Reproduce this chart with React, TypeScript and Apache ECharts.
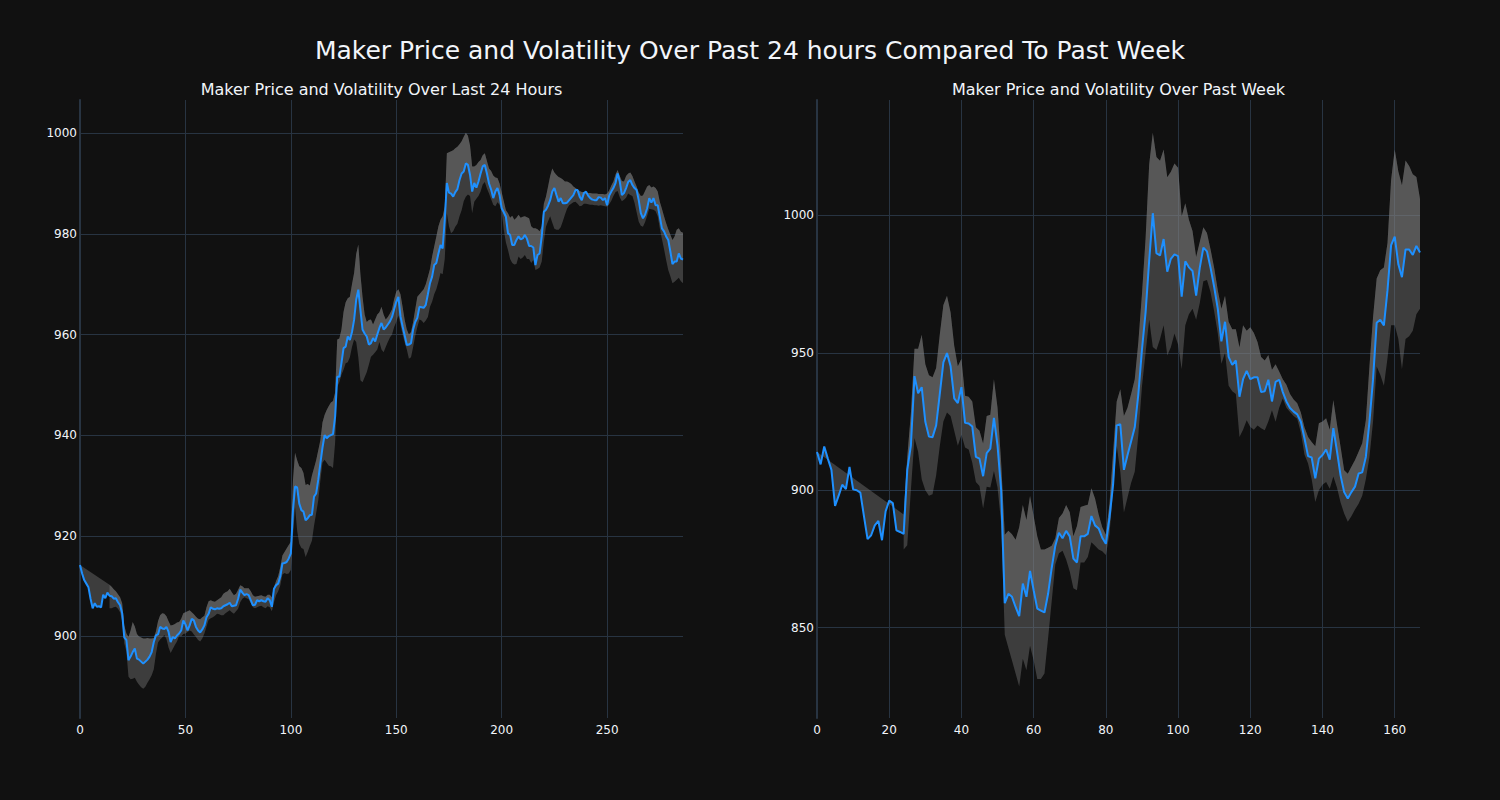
import React, { useEffect, useRef } from "react";
import * as echarts from "echarts";

// ---------- Left panel: last 24 hours (5-minute steps) ----------
const priceL = [
  914.2, 912.5, 911.2, 910.5, 909.8, 907.5, 905.6, 906.6, 905.9, 906.0,
  905.8, 908.3, 907.6, 908.7, 908.1, 908.0, 907.5, 907.6, 906.8, 906.2,
  904.6, 899.8, 899.3, 895.3, 896.0, 896.9, 897.6, 895.6, 895.4, 895.0,
  894.6, 895.0, 895.4, 896.0, 896.9, 898.9, 900.2, 900.4, 901.9, 901.6,
  901.5, 901.9, 900.9, 898.9, 899.9, 899.6, 900.2, 900.6, 901.2, 903.2,
  902.4, 901.2, 902.2, 903.5, 903.2, 901.9, 901.2, 900.8, 901.4, 902.2,
  903.8, 904.5, 905.8, 905.5, 905.4, 905.6, 905.5, 905.6, 906.0, 906.2,
  906.4, 906.7, 906.0, 906.1, 906.2, 907.5, 909.3, 908.7, 908.2, 908.4,
  908.2, 907.2, 906.2, 906.3, 907.2, 907.0, 907.2, 907.0, 906.9, 907.6,
  907.2, 905.9, 909.5, 910.2, 910.5, 911.9, 914.5, 914.6, 914.8, 915.5,
  916.5, 925.0, 929.8, 929.6, 926.4, 925.1, 924.8, 923.1, 923.5, 924.1,
  924.2, 927.8, 928.4, 931.1, 934.4, 937.5, 940.0, 939.4, 939.8, 940.0,
  940.2, 943.7, 951.6, 951.6, 954.3, 957.3, 957.6, 959.6, 958.9, 960.5,
  962.9, 966.9, 968.9, 964.9, 961.0, 960.2, 959.6, 958.0, 958.3, 959.3,
  958.6, 960.0, 961.3, 962.3, 961.0, 961.4, 962.0, 962.6, 963.5, 965.0,
  966.5, 967.5, 963.6, 961.6, 959.8, 957.9, 958.0, 958.3, 961.0, 962.5,
  963.3, 965.5, 965.4, 965.3, 965.9, 968.0, 970.2, 971.5, 973.8, 974.2,
  976.1, 977.8, 977.1, 982.8, 990.1, 988.2, 988.0, 987.4, 988.3, 988.9,
  990.7, 992.0, 992.4, 994.0, 993.7, 991.7, 988.4, 990.1, 989.2, 990.4,
  992.0, 993.4, 993.7, 992.0, 990.0, 988.8, 987.1, 988.4, 989.1, 987.7,
  985.1, 984.3, 983.4, 980.1, 979.8, 977.8, 977.8, 978.8, 979.5, 978.9,
  979.1, 979.8, 979.0, 977.6, 977.6, 977.3, 973.8, 975.8, 976.1, 979.5,
  984.4, 984.8, 985.6, 986.7, 988.4, 989.1, 987.7, 986.4, 987.1, 986.1,
  986.1, 986.2, 986.7, 987.2, 987.7, 988.7, 988.7, 987.4, 986.7, 988.1,
  988.4, 987.6, 987.1, 986.8, 986.7, 986.7, 987.3, 987.2, 986.7, 987.1,
  985.7, 987.6, 988.4, 989.1, 990.1, 992.0, 990.4, 987.7, 988.1, 989.1,
  990.3, 990.7, 989.7, 989.1, 988.7, 986.7, 984.1, 983.1, 983.8, 985.1,
  987.1, 986.2, 987.1, 985.7, 985.7, 983.4, 981.1, 980.5, 979.5, 978.8,
  976.5, 974.0, 974.5, 974.5, 976.1, 975.1, 974.9,
];
const bandStartL = 14;
const upperL = [
  910.3, 909.9, 909.4, 909.0, 908.4, 907.8,
  906.6, 902.2, 900.6, 899.9, 901.2, 902.9, 902.0, 900.5, 900.0, 899.8,
  899.6, 899.6, 899.7, 899.6, 899.6, 899.7, 901.0, 903.0, 904.2, 904.6,
  904.5, 904.0, 903.0, 902.2, 902.3, 902.5, 902.8, 902.9, 903.5, 904.6,
  904.8, 905.0, 905.2, 904.8, 904.4, 903.9, 903.5, 903.4, 903.8, 904.1,
  905.8, 907.0, 907.2, 907.0, 906.9, 907.2, 907.5, 907.8, 908.5, 908.8,
  909.0, 909.5, 908.8, 908.2, 908.5, 909.3, 910.2, 910.0, 909.6, 909.6,
  909.6, 909.0, 908.2, 907.9, 908.0, 908.1, 908.2, 908.0, 907.9, 908.3,
  908.3, 907.8, 909.8, 911.0, 912.0, 913.8, 916.1, 916.8, 917.5, 918.2,
  918.8, 931.0, 936.5, 935.0, 933.8, 933.5, 932.5, 930.1, 930.3, 930.0,
  932.0, 933.5, 935.0, 937.0, 939.0, 942.5, 944.0, 945.0, 945.8, 946.5,
  946.8, 948.5, 959.0, 959.2, 961.0, 964.5, 966.4, 967.2, 967.5, 970.0,
  972.2, 976.0, 977.9, 972.0, 967.5, 964.0, 962.5, 962.9, 963.0, 962.0,
  963.0, 964.0, 964.4, 965.5, 964.0, 963.0, 963.5, 964.2, 965.0, 967.0,
  968.5, 969.0, 968.0, 965.5, 962.9, 961.0, 960.0, 960.5, 962.5, 965.0,
  967.5, 968.0, 968.5, 969.0, 970.0, 971.5, 973.0, 975.5, 977.5, 979.5,
  981.5, 982.8, 983.5, 985.4, 996.0, 996.2, 996.4, 996.6, 997.0, 997.3,
  997.8, 998.4, 999.3, 1000.1, 999.5, 997.5, 993.4, 993.4, 993.7, 994.3,
  994.7, 995.6, 996.0, 994.5, 993.0, 992.5, 991.6, 991.2, 991.1, 990.0,
  988.2, 986.5, 984.7, 984.1, 983.2, 983.6, 982.8, 983.2, 983.8, 983.2,
  983.4, 983.5, 983.3, 983.1, 981.5, 981.1, 981.1, 980.9, 980.5, 981.5,
  986.0, 987.4, 989.4, 991.5, 993.0, 992.2, 991.7, 991.3, 991.1, 990.8,
  990.4, 990.4, 990.2, 989.9, 989.4, 989.1, 988.8, 988.5, 988.3, 988.3,
  988.2, 988.1, 988.1, 988.0, 988.0, 988.0, 987.9, 987.9, 987.9, 987.8,
  988.0, 988.6, 989.6, 990.4, 991.8, 992.7, 991.5, 990.5, 990.4, 991.5,
  992.0, 992.2, 991.5, 990.4, 989.4, 988.2, 987.5, 987.6, 988.5, 989.4,
  989.7, 989.2, 989.4, 989.1, 988.4, 986.4, 985.0, 983.5, 982.1, 980.9,
  979.8, 978.8, 979.5, 980.8, 981.1, 980.4, 980.2,
];
const lowerL = [
  905.6, 905.6, 905.8, 905.9, 905.5, 904.8,
  903.0, 898.6, 897.0, 892.0, 891.5, 891.6, 891.8, 891.0, 890.4, 889.9,
  889.6, 890.0, 890.8, 891.5, 892.3, 893.5, 896.5, 898.8, 899.4, 899.8,
  900.3, 899.5, 897.8, 896.7, 897.5, 898.3, 899.0, 900.1, 900.0, 900.5,
  900.6, 900.9, 901.2, 901.0, 900.4, 899.9, 899.3, 899.0, 899.6, 900.6,
  902.0, 903.3, 903.6, 903.8, 904.1, 904.5, 904.4, 904.2, 904.2, 904.6,
  904.9, 905.2, 904.8, 904.5, 905.0, 905.5, 906.8, 907.5, 907.8, 907.6,
  907.4, 906.6, 905.8, 905.6, 905.8, 906.0, 906.1, 905.8, 905.6, 906.0,
  905.8, 905.0, 906.8, 908.2, 909.0, 910.2, 912.3, 912.6, 912.4, 912.5,
  913.2, 920.0, 925.7, 921.0, 918.4, 917.6, 917.4, 915.8, 916.8, 918.0,
  919.0, 922.0, 924.5, 927.0, 931.0, 934.5, 935.1, 934.5, 933.9, 933.8,
  933.5, 938.5, 949.6, 950.5, 952.0, 953.0, 954.3, 954.5, 955.5, 957.5,
  959.0, 958.5, 955.5, 950.9, 950.5, 951.5, 952.5, 954.0, 955.6, 956.0,
  956.5, 957.0, 958.5, 957.0, 956.5, 957.5, 958.5, 959.4, 960.0, 961.5,
  962.5, 963.8, 962.0, 960.0, 958.4, 957.0, 955.2, 955.5, 957.5, 959.7,
  961.5, 963.0, 962.8, 962.3, 962.8, 963.5, 965.5, 966.5, 968.0, 969.0,
  970.5, 972.2, 972.0, 975.0, 984.1, 981.5, 980.1, 980.5, 981.4, 982.0,
  983.5, 984.7, 986.5, 987.4, 987.8, 987.5, 984.1, 986.4, 987.0, 987.5,
  988.4, 989.8, 990.3, 989.0, 988.0, 986.9, 985.8, 985.5, 986.3, 985.8,
  984.5, 980.8, 978.3, 976.8, 975.0, 974.2, 973.9, 974.0, 975.5, 975.0,
  975.3, 975.8, 975.0, 975.0, 974.2, 974.8, 972.8, 973.0, 973.3, 974.5,
  978.5, 981.4, 982.5, 983.5, 982.2, 981.0, 980.8, 980.8, 981.3, 982.5,
  983.8, 985.0, 985.7, 986.0, 986.3, 986.4, 986.0, 985.5, 985.6, 986.0,
  986.0, 985.9, 985.8, 985.8, 985.7, 985.7, 985.6, 985.7, 985.6, 985.5,
  985.4, 985.9, 986.6, 987.5, 988.3, 988.5, 987.3, 986.5, 986.8, 987.2,
  988.0, 987.7, 987.5, 986.2, 984.3, 982.4, 981.6, 981.4, 982.3, 983.6,
  985.0, 984.9, 984.8, 984.5, 983.5, 981.1, 979.0, 977.0, 974.8, 972.8,
  971.6, 970.2, 970.5, 970.9, 971.3, 970.6, 970.2,
];

// ---------- Right panel: past week (hourly steps) ----------
const priceR = [
  913.9, 909.4, 915.9, 911.5, 907.4, 894.3, 898.0, 902.0, 900.4, 908.5,
  900.3, 900.0, 899.1, 890.6, 882.2, 883.6, 887.2, 888.8, 881.8, 892.3,
  896.2, 895.3, 885.4, 884.8, 884.1, 907.4, 916.2, 941.5, 935.3, 937.5,
  924.9, 919.5, 919.3, 923.6, 935.0, 946.5, 949.9, 945.1, 933.4, 931.7,
  937.5, 924.5, 924.3, 923.2, 912.1, 911.5, 905.1, 913.5, 915.1, 926.3,
  916.2, 900.0, 858.9, 862.3, 861.2, 857.5, 854.2, 866.0, 861.2, 870.6,
  863.6, 856.9, 856.2, 855.5, 862.3, 871.7, 879.8, 884.5, 882.5, 885.2,
  883.2, 875.1, 873.7, 883.2, 883.2, 884.1, 890.6, 887.2, 886.1, 882.7,
  880.5, 889.9, 902.0, 923.6, 924.0, 907.4, 912.8, 917.8, 922.9, 935.0,
  951.2, 964.7, 983.6, 1000.8, 986.3, 985.4, 991.4, 979.5, 984.2, 985.8,
  985.2, 970.4, 983.3, 981.1, 979.8, 970.8, 980.9, 988.3, 986.9, 980.9,
  973.9, 966.0, 954.2, 961.3, 948.5, 945.6, 947.2, 934.0, 940.4, 943.4,
  940.4, 941.1, 941.1, 935.7, 936.0, 940.2, 932.3, 939.4, 940.2, 935.7,
  932.3, 929.9, 928.6, 927.6, 924.9, 918.9, 912.4, 911.9, 904.3, 911.5,
  912.8, 914.8, 911.1, 922.6, 914.2, 905.4, 899.3, 897.0, 899.3, 901.3,
  906.1, 906.5, 912.1, 924.9, 940.4, 960.9, 962.0, 960.0, 972.8, 989.2,
  992.3, 982.2, 977.5, 987.6, 987.6, 985.6, 988.9, 986.5,
];
const bandStartR = 24;
const upperR = [
  891.2, 912.0, 928.0, 951.5, 951.5, 956.6,
  945.8, 941.8, 941.1, 944.5, 956.6, 967.4, 970.8, 964.7, 952.6, 945.1,
  947.8, 934.4, 934.0, 932.3, 922.9, 921.6, 917.0, 927.0, 927.5, 940.4,
  930.0, 910.0, 883.8, 885.2, 884.0, 882.0, 886.5, 894.6, 889.2, 898.0,
  890.6, 883.2, 878.4, 878.4, 879.1, 879.8, 882.5, 889.9, 891.5, 894.6,
  892.0, 883.2, 887.0, 893.9, 894.3, 894.7, 900.7, 897.0, 891.2, 886.5,
  883.8, 895.0, 913.5, 932.3, 936.7, 927.0, 930.0, 935.0, 940.4, 953.9,
  971.4, 991.6, 1018.6, 1030.1, 1021.3, 1019.9, 1024.0, 1013.9, 1015.9, 1018.9,
  1017.3, 999.7, 1004.4, 998.4, 994.3, 984.9, 990.3, 995.7, 993.6, 987.6,
  980.9, 972.8, 966.0, 970.8, 961.3, 958.6, 958.6, 951.9, 960.0, 958.0,
  959.3, 957.2, 953.9, 948.5, 947.2, 949.2, 943.8, 945.8, 943.2, 940.4,
  938.4, 935.0, 933.0, 931.6, 928.3, 922.9, 919.4, 917.5, 916.0, 924.4,
  925.0, 926.2, 922.0, 932.8, 924.0, 915.8, 907.3, 906.0, 908.5, 911.0,
  914.0, 917.1, 925.5, 945.0, 963.0, 977.0, 980.0, 981.0, 990.0, 1013.0,
  1024.0, 1016.0, 1011.0, 1020.0, 1018.0, 1015.0, 1014.0, 1006.0,
];
const lowerR = [
  878.4, 880.0, 900.0, 919.0, 914.0, 904.0,
  900.0, 898.0, 898.5, 905.4, 916.0, 925.0, 928.3, 927.0, 921.6, 916.2,
  920.2, 915.5, 914.8, 910.0, 903.0, 901.5, 893.3, 901.3, 901.0, 907.0,
  901.0, 888.0, 847.4, 842.7, 838.0, 833.3, 828.6, 838.7, 834.5, 843.4,
  838.0, 831.3, 831.3, 833.3, 846.1, 859.6, 873.0, 877.1, 878.0, 874.8,
  870.4, 864.3, 863.6, 873.7, 873.7, 875.7, 881.1, 879.8, 878.4, 877.8,
  876.4, 884.0, 900.0, 916.2, 906.7, 891.9, 897.3, 902.7, 906.7, 920.2,
  937.7, 950.0, 962.0, 952.1, 951.0, 955.0, 960.0, 949.0, 952.0, 957.0,
  953.0, 944.0, 960.0, 964.0, 966.0, 962.0, 968.0, 976.0, 976.5, 972.0,
  965.0, 957.0, 946.0, 950.0, 938.0, 936.0, 935.0, 919.4, 922.0, 925.5,
  923.0, 922.0, 923.5, 922.5, 921.8, 925.0, 929.1, 924.9, 930.0, 933.4,
  930.0, 928.5, 927.0, 926.0, 921.0, 913.0, 909.7, 904.0, 895.7, 900.0,
  902.0, 903.0, 900.5, 905.0, 901.0, 895.5, 891.5, 888.5, 890.5, 893.0,
  895.1, 898.0, 904.0, 912.1, 925.0, 945.0, 942.0, 938.0, 948.0, 960.0,
  960.0, 955.0, 944.0, 955.0, 956.0, 958.0, 964.0, 966.0,
];

const xTicksLeft = { max: 286, interval: 50 };
const xTicksRight = { max: 167, interval: 20 };
const yRangeLeft = { min: 883.8, max: 1006.6 };
const yRangeRight = { min: 817.1, max: 1042.0 };

const titleMain = "Maker Price and Volatility Over Past 24 hours Compared To Past Week";
const titleLeft = "Maker Price and Volatility Over Last 24 Hours";
const titleRight = "Maker Price and Volatility Over Past Week";

const FONT = "DejaVu Sans";
const TEXT = "#f2f5fa";
const GRID = "#283442";
const BAND = "rgba(128,128,128,0.4)";
const LINE = "#1E90FF";

function bandBetween(idx: number, start: number, upper: number[], lower: number[]) {
  return {
    type: "custom",
    xAxisIndex: idx,
    yAxisIndex: idx,
    silent: true,
    z: 1,
    data: [[start, upper[0]]],
    renderItem: (_p: any, api: any) => {
      const pts: number[][] = [];
      for (let k = 0; k < upper.length; k++) pts.push(api.coord([start + k, upper[k]]));
      for (let k = lower.length - 1; k >= 0; k--) pts.push(api.coord([start + k, lower[k]]));
      return { type: "polygon", shape: { points: pts }, style: { fill: BAND } };
    },
  };
}

function bandPriceToUpper(idx: number, price: number[], start: number, upper: number[]) {
  return {
    type: "custom",
    xAxisIndex: idx,
    yAxisIndex: idx,
    silent: true,
    z: 2,
    data: [[0, price[0]]],
    renderItem: (_p: any, api: any) => {
      const pts: number[][] = [];
      for (let k = 0; k < price.length; k++) pts.push(api.coord([k, price[k]]));
      for (let k = upper.length - 1; k >= 0; k--) pts.push(api.coord([start + k, upper[k]]));
      return { type: "polygon", shape: { points: pts }, style: { fill: BAND } };
    },
  };
}

const plainNumber = (v: number) => String(v);

function xAxisFor(idx: number, t: { max: number; interval: number }) {
  return {
    gridIndex: idx,
    type: "value",
    min: 0,
    max: t.max,
    interval: t.interval,
    axisLine: { show: false },
    axisTick: { show: false },
    axisLabel: { color: TEXT, fontSize: 12, fontFamily: FONT, margin: 6, showMaxLabel: false, formatter: plainNumber },
    splitLine: { show: true, showMaxLine: false, lineStyle: { color: GRID, width: 1 } },
  };
}

function yAxisFor(idx: number, r: { min: number; max: number }) {
  return {
    gridIndex: idx,
    type: "value",
    min: r.min,
    max: r.max,
    splitNumber: 5,
    axisLine: { show: true, onZero: false, lineStyle: { color: GRID, width: 2 } },
    axisTick: { show: false },
    axisLabel: {
      color: TEXT, fontSize: 12, fontFamily: FONT, margin: 3,
      showMinLabel: false, showMaxLabel: false, formatter: plainNumber,
    },
    splitLine: { show: true, showMinLine: false, showMaxLine: false, lineStyle: { color: GRID, width: 1 } },
  };
}

export default function App() {
  const ref = useRef<HTMLDivElement>(null);
  useEffect(() => {
    document.body.style.margin = "0";
    document.body.style.background = "#111111";
    const chart = echarts.init(ref.current!, undefined, { renderer: "svg" });
    chart.setOption({
      animation: false,
      backgroundColor: "#111111",
      grid: [
        { left: 80, top: 100, width: 603, height: 618 },
        { left: 817, top: 100, width: 603, height: 618 },
      ],
      xAxis: [xAxisFor(0, xTicksLeft), xAxisFor(1, xTicksRight)],
      yAxis: [yAxisFor(0, yRangeLeft), yAxisFor(1, yRangeRight)],
      graphic: [
        { type: "text", x: 750, y: 50, style: { text: titleMain, fill: TEXT, font: `25px "${FONT}"`, textAlign: "center", textVerticalAlign: "middle" } },
        { type: "text", x: 381.5, y: 89, style: { text: titleLeft, fill: TEXT, font: `16px "${FONT}"`, textAlign: "center", textVerticalAlign: "middle" } },
        { type: "text", x: 1118.5, y: 89, style: { text: titleRight, fill: TEXT, font: `16px "${FONT}"`, textAlign: "center", textVerticalAlign: "middle" } },
      ],
      series: [
        bandBetween(0, bandStartL, upperL, lowerL),
        bandPriceToUpper(0, priceL, bandStartL, upperL),
        {
          type: "line", xAxisIndex: 0, yAxisIndex: 0, z: 3, showSymbol: false, silent: true,
          data: priceL.map((v, i) => [i, v]),
          lineStyle: { color: LINE, width: 2 },
        },
        bandBetween(1, bandStartR, upperR, lowerR),
        bandPriceToUpper(1, priceR, bandStartR, upperR),
        {
          type: "line", xAxisIndex: 1, yAxisIndex: 1, z: 3, showSymbol: false, silent: true,
          data: priceR.map((v, i) => [i, v]),
          lineStyle: { color: LINE, width: 2 },
        },
      ],
    });
    return () => chart.dispose();
  }, []);
  return <div ref={ref} style={{ position: "absolute", left: 0, top: 0, width: 1500, height: 800 }} />;
}
